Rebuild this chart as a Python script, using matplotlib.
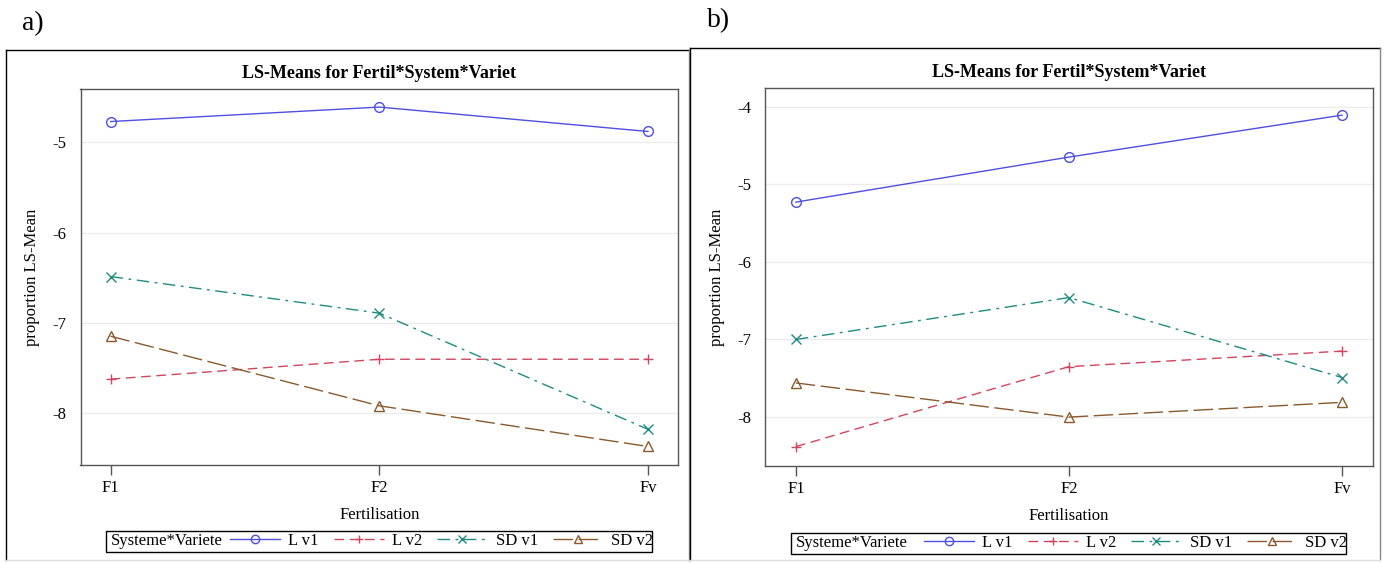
import matplotlib
matplotlib.use("Agg")
import matplotlib.pyplot as plt
from matplotlib.lines import Line2D
from matplotlib.patches import Rectangle

plt.rcParams['font.family'] = ['Liberation Serif', 'DejaVu Serif']

categories = ["F1", "F2", "Fv"]
series_names = ["L v1", "L v2", "SD v1", "SD v2"]
legend_title = "Systeme*Variete"

# Panel a values
a_L_v1 = [-4.77, -4.61, -4.88]
a_L_v2 = [-7.62, -7.40, -7.40]
a_SD_v1 = [-6.485, -6.89, -8.175]
a_SD_v2 = [-7.145, -7.915, -8.365]

# Panel b values
b_L_v1 = [-5.23, -4.65, -4.11]
b_L_v2 = [-8.38, -7.35, -7.15]
b_SD_v1 = [-7.00, -6.46, -7.49]
b_SD_v2 = [-7.56, -8.00, -7.81]

a_yticks = [-5, -6, -7, -8]
b_yticks = [-4, -5, -6, -7, -8]

colors = ["#4f4fe0", "#d24560", "#1f8c82", "#8a5a2c"]
markers = ["o", "+", "x", "^"]
styles = ["-", (0, (7, 4)), (0, (9, 4, 2, 4)), (0, (14, 4))]

W, H = 1385, 563
fig = plt.figure(figsize=(W / 100, H / 100), dpi=100)


def fx(x):
    return x / W


def fy(y):
    return 1 - y / H


def frame(x0, y0, x1, y1):
    fig.add_artist(Line2D([fx(x0), fx(x1)], [fy(y0), fy(y0)], color="black", lw=1.0))
    fig.add_artist(Line2D([fx(x0), fx(x0)], [fy(y0), fy(y1)], color="black", lw=1.0))
    fig.add_artist(Line2D([fx(x1), fx(x1)], [fy(y0), fy(y1)], color="#888888", lw=1.0))
    fig.add_artist(Line2D([fx(x0), fx(x1)], [fy(y1), fy(y1)], color="#dddddd", lw=1.0))


def panel(box, data, yticks, ylim, leg_box, letter, letter_pos, frame_box):
    x0, y0, x1, y1 = box
    ax = fig.add_axes([fx(x0), fy(y1), (x1 - x0) / W, (y1 - y0) / H])
    xs = list(range(len(categories)))
    for vals, c, m, ls, name in zip(data, colors, markers, styles, series_names):
        ax.plot(xs, vals, color=c, lw=1.0, ls=ls, marker=m, ms=7,
                mfc="none", mec=c, mew=1.0, label=name)
    ax.set_xlim(-0.112, 2.112)
    ax.set_ylim(*ylim)
    ax.set_xticks(xs)
    ax.set_xticklabels(categories, fontsize=12)
    ax.set_yticks(yticks)
    ax.set_yticklabels([str(t) for t in yticks], fontsize=12)
    ax.yaxis.grid(True, color="#ececec", lw=1.0)
    ax.set_axisbelow(True)
    for s in ax.spines.values():
        s.set_color("#555555")
        s.set_linewidth(1.0)
    ax.tick_params(axis="x", length=7, width=1, color="#555555", pad=4)
    ax.tick_params(axis="y", length=0, pad=10)
    ax.set_xlabel("Fertilisation", fontsize=12, labelpad=8)
    ax.set_ylabel("proportion LS-Mean", fontsize=12, labelpad=9)
    ax.set_title("LS-Means for Fertil*System*Variet", fontsize=13, fontweight="bold", pad=8)

    # legend box
    lx0, ly0, lx1, ly1 = leg_box
    fig.add_artist(Rectangle((fx(lx0), fy(ly1)), (lx1 - lx0) / W, (ly1 - ly0) / H,
                             transform=fig.transFigure, fill=False, ec="black", lw=1.0))
    fig.text(fx(lx0 + 5), fy((ly0 + ly1) / 2), legend_title, fontsize=12, va="center", ha="left")
    handles = []
    for c, m, ls, name in zip(colors, markers, styles, series_names):
        handles.append(Line2D([], [], color=c, lw=1.0, ls=ls, marker=m,
                              ms=6, mfc="none", mec=c, label=name))
    fig.legend(handles=handles, loc="center right",
               bbox_to_anchor=(fx(lx1 + 1), fy((ly0 + ly1) / 2)),
               ncol=4, fontsize=12, frameon=False, handlelength=3.0,
               handletextpad=0.5, columnspacing=0.9, borderpad=0.0, borderaxespad=0.0)
    fig.text(fx(letter_pos[0]), fy(letter_pos[1]), letter, fontsize=20, va="center", ha="left")
    frame(*frame_box)
    return ax


panel((80.5, 89, 678, 465), [a_L_v1, a_L_v2, a_SD_v1, a_SD_v2], a_yticks, (-8.57, -4.41),
      (105.5, 530.5, 652, 551.5), "a)", (22, 24), (6, 50, 689, 560))
panel((765.3, 88, 1372.5, 466), [b_L_v1, b_L_v2, b_SD_v1, b_SD_v2], b_yticks, (-8.63, -3.76),
      (791, 533, 1346, 553.5), "b)", (707, 21), (690, 48, 1380, 560))

fig.savefig("out.png", dpi=100)
